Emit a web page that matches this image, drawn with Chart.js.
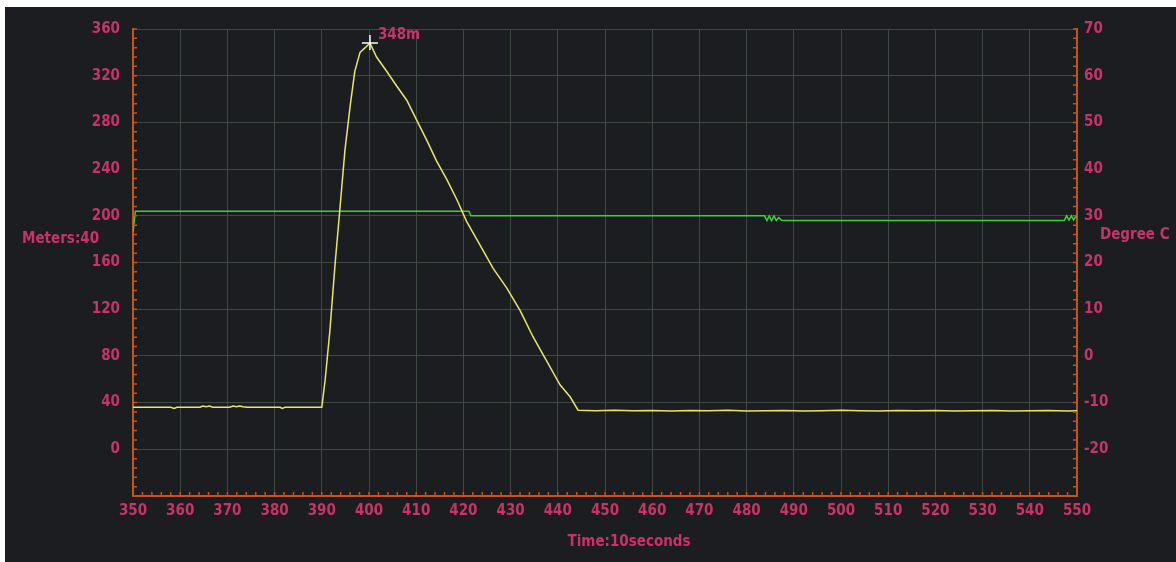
<!DOCTYPE html>
<html>
<head>
<meta charset="utf-8">
<script src="https://cdn.jsdelivr.net/npm/chart.js@4/dist/chart.umd.min.js"></script>
<style>
    html, body { margin: 0; padding: 0; background: #ffffff; }
    #wrap { position: absolute; left: 5px; top: 7px; width: 1171px; height: 555px; }
</style>
</head>
<body>
<div id="wrap"><canvas id="logChart"></canvas></div>
<script>
// Depth / height trace (left axis, meters)
const meterTimes = [350, 355, 358, 358.7, 359.3, 362, 364.2, 364.8, 365.5, 366.2, 366.9, 368, 370.5, 371.2, 371.9, 372.6, 373.3, 374.2, 377, 381.2, 381.6, 382.2, 386, 390,
    390.7, 391.7, 392.8, 393.9, 394.9, 396.0, 397.0, 398.1, 399.2, 400.2, 401.6, 403.7, 405.9, 408.0, 410.1, 412.2, 414.3, 416.5, 418.6, 420.7,
    423.5, 426.3, 429.2, 432.0, 434.8, 437.6, 440.5, 442.6, 444.3,
    448, 452, 456, 460, 464, 468, 472, 476, 480, 484, 488, 492, 496, 500, 504, 508, 512, 516, 520, 524, 528, 532, 536, 540, 544, 548, 550];
const meterValues = [36, 36, 36, 35, 36, 36, 36, 37, 36.5, 37, 36, 36, 36, 37, 36.5, 37, 36.5, 36, 36, 36, 35, 36, 36, 36.1,
    59, 101, 158, 209, 256, 294, 324, 340, 344, 348, 336, 324, 311, 299, 282, 265, 247, 231, 214, 195,
    175, 155, 138, 119, 96, 76, 55, 45, 33.5,
    33, 33.5, 33, 33.2, 32.8, 33.3, 33, 33.4, 32.9, 33, 33.3, 32.8, 33, 33.4, 33, 32.8, 33.2, 33, 33.3, 32.9, 33, 33.2, 32.8, 33, 33.2, 32.9, 33];

// Temperature trace (right axis, degree C)
const tempTimes = [350, 350.5, 421.2, 421.6, 483.8, 484.3, 484.8, 485.3, 485.8, 486.3, 486.8, 487.5, 547.3, 547.8, 548.3, 548.8, 549.3, 549.8, 550];
const tempValues = [26.5, 31.0, 31.0, 30.0, 30.0, 29.0, 30.0, 29.0, 30.0, 29.0, 29.6, 29.0, 29.0, 30.0, 29.1, 30.0, 29.1, 30.0, 29.6];

const xRange = [350, 550];
const meterRange = [-40, 360];
const tempRange = [-30, 70];
const peakTime = 400.2;
const peakValue = 348;

const LABEL = '#c8336a';
const AXIS = '#c4531d';
const GRID = '#3f4843';
const FONT = '"Liberation Sans Narrow", "DejaVu Sans Condensed", Roboto, sans-serif';

const decor = {
    id: 'decor',
    beforeDraw(chart) {
        const ctx = chart.ctx;
        ctx.save();
        ctx.fillStyle = '#1b1d20';
        ctx.fillRect(0, 0, chart.width, chart.height);
        ctx.restore();
    },
    afterDraw(chart) {
        const ctx = chart.ctx;
        const a = chart.chartArea;
        const sx = chart.scales.x, sy = chart.scales.y, sy1 = chart.scales.y1;
        ctx.save();
        // minor ticks, drawn inward
        ctx.strokeStyle = AXIS;
        ctx.lineWidth = 1.5;
        ctx.beginPath();
        for (let v = meterRange[0]; v <= meterRange[1]; v += 8) {
            const p = sy.getPixelForValue(v);
            ctx.moveTo(a.left, p); ctx.lineTo(a.left + 4, p);
        }
        for (let v = tempRange[0]; v <= tempRange[1]; v += 2) {
            const p = sy1.getPixelForValue(v);
            ctx.moveTo(a.right, p); ctx.lineTo(a.right - 4, p);
        }
        for (let v = xRange[0]; v <= xRange[1]; v += 2) {
            const p = sx.getPixelForValue(v);
            ctx.moveTo(p, a.bottom); ctx.lineTo(p, a.bottom - 4);
        }
        ctx.stroke();

        // peak marker
        const px = sx.getPixelForValue(peakTime);
        const py = sy.getPixelForValue(peakValue);
        ctx.strokeStyle = '#ffffff';
        ctx.lineWidth = 1.5;
        ctx.beginPath();
        ctx.moveTo(px - 8, py); ctx.lineTo(px + 8, py);
        ctx.moveTo(px, py - 8); ctx.lineTo(px, py + 7);
        ctx.stroke();

        ctx.fillStyle = LABEL;
        ctx.font = 'bold 15px ' + FONT;
        ctx.textBaseline = 'middle';
        ctx.textAlign = 'left';
        ctx.fillText(peakValue + 'm', px + 8, py - 8);

        // axis captions
        ctx.fillText('Meters:40', 17, 232);
        ctx.fillText('Degree C', 1095, 228);
        ctx.textAlign = 'center';
        ctx.fillText('Time:10seconds', 624, 535);
        ctx.restore();
    }
};

new Chart(document.getElementById('logChart'), {
    type: 'line',
    data: {
        datasets: [{
            label: 'Meters',
            data: meterTimes.map((t, i) => ({ x: t, y: meterValues[i] })),
            borderColor: '#e8e862',
            borderWidth: 1.5,
            pointRadius: 0,
            tension: 0,
            yAxisID: 'y'
        }, {
            label: 'Degree C',
            data: tempTimes.map((t, i) => ({ x: t, y: tempValues[i] })),
            borderColor: '#3ad23a',
            borderWidth: 1.5,
            pointRadius: 0,
            tension: 0,
            yAxisID: 'y1'
        }]
    },
    options: {
        responsive: true,
        maintainAspectRatio: false,
        animation: false,
        events: [],
        layout: { padding: { top: 17, left: 0, right: 0, bottom: 0 } },
        plugins: { legend: { display: false }, tooltip: { enabled: false } },
        scales: {
            x: {
                type: 'linear',
                min: xRange[0],
                max: xRange[1],
                afterFit(scale) { scale.height = 66; },
                ticks: { stepSize: 10, color: LABEL, padding: 6, maxRotation: 0, font: { family: FONT, size: 15, weight: 'bold' } },
                grid: { color: GRID, drawTicks: false },
                border: { color: AXIS, width: 2 }
            },
            y: {
                position: 'left',
                min: meterRange[0],
                max: meterRange[1],
                afterFit(scale) { scale.width = 128; },
                ticks: {
                    stepSize: 40, color: LABEL, padding: 13,
                    font: { family: FONT, size: 15, weight: 'bold' },
                    callback: v => v === meterRange[0] ? '' : v
                },
                grid: { color: GRID, drawTicks: false },
                border: { color: AXIS, width: 2 }
            },
            y1: {
                position: 'right',
                min: tempRange[0],
                max: tempRange[1],
                afterFit(scale) { scale.width = 99; },
                ticks: {
                    stepSize: 10, color: LABEL, padding: 7,
                    font: { family: FONT, size: 15, weight: 'bold' },
                    callback: v => v === tempRange[0] ? '' : v
                },
                grid: { display: false, drawTicks: false },
                border: { color: AXIS, width: 2 }
            }
        }
    },
    plugins: [decor]
});
</script>
</body>
</html>
